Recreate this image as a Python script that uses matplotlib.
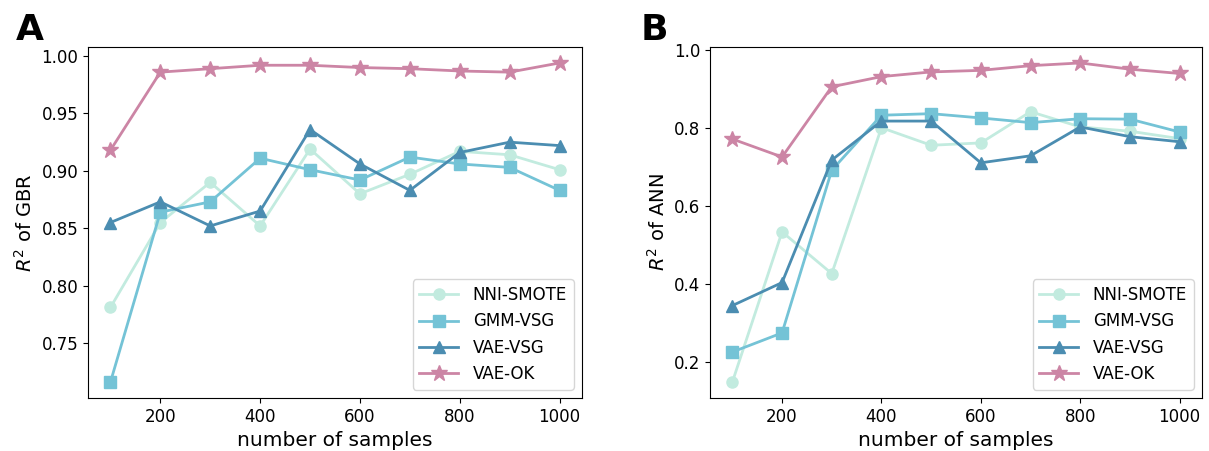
import matplotlib
matplotlib.use('Agg')
from matplotlib import pyplot as plt
from matplotlib.ticker import MultipleLocator

n_samples = [100, 200, 300, 400, 500, 600, 700, 800, 900, 1000]
methods = ['NNI-SMOTE', 'GMM-VSG', 'VAE-VSG', 'VAE-OK']

# R^2 of GBR (panel A)
gbr_nni = [0.781, 0.855, 0.890, 0.852, 0.919, 0.880, 0.897, 0.917, 0.914, 0.901]
gbr_gmm = [0.716, 0.864, 0.873, 0.911, 0.901, 0.892, 0.912, 0.906, 0.903, 0.883]
gbr_vae_vsg = [0.855, 0.873, 0.852, 0.865, 0.936, 0.906, 0.883, 0.916, 0.925, 0.922]
gbr_vae_ok = [0.918, 0.986, 0.989, 0.992, 0.992, 0.990, 0.989, 0.987, 0.986, 0.994]

# R^2 of ANN (panel B)
ann_nni = [0.149, 0.534, 0.427, 0.801, 0.756, 0.762, 0.842, 0.803, 0.792, 0.773]
ann_gmm = [0.226, 0.275, 0.692, 0.833, 0.837, 0.826, 0.814, 0.824, 0.823, 0.790]
ann_vae_vsg = [0.345, 0.404, 0.718, 0.818, 0.818, 0.711, 0.729, 0.803, 0.778, 0.765]
ann_vae_ok = [0.772, 0.726, 0.906, 0.932, 0.944, 0.948, 0.960, 0.967, 0.951, 0.940]

colors = ['#c2ebdf', '#74c3d6', '#4b8db1', '#cc85a5']
markers = ['o', 's', '^', '*']
msizes = [8, 8, 8, 12]

W, H = 1209, 451
fig = plt.figure(figsize=(W / 100, H / 100), dpi=100)
ax_a = fig.add_axes([88 / W, 1 - 398 / H, 494 / W, 351 / H])
ax_b = fig.add_axes([710 / W, 1 - 398 / H, 492 / W, 351 / H])

panels = [
    (ax_a, [gbr_nni, gbr_gmm, gbr_vae_vsg, gbr_vae_ok], '$R^2$ of GBR', 'A', 16),
    (ax_b, [ann_nni, ann_gmm, ann_vae_vsg, ann_vae_ok], '$R^2$ of ANN', 'B', 641),
]

for ax, series, ylabel, tag, tag_x in panels:
    for k, vals in enumerate(series):
        ax.plot(n_samples, vals, color=colors[k], marker=markers[k],
                markersize=msizes[k], linewidth=2, label=methods[k])
    ax.set_xlabel('number of samples', fontsize=14.5)
    ax.set_ylabel(ylabel, fontsize=14)
    ax.set_xticks([200, 400, 600, 800, 1000])
    ax.tick_params(labelsize=12)
    ax.legend(loc='lower right', fontsize=12, handlelength=2.3,
              handletextpad=0.9)
    fig.text(tag_x / W, 1 - 40 / H, tag, fontsize=26, fontweight='bold',
             ha='left', va='baseline')

ax_b.yaxis.set_major_locator(MultipleLocator(0.2))

fig.savefig('out.png', dpi=100)
